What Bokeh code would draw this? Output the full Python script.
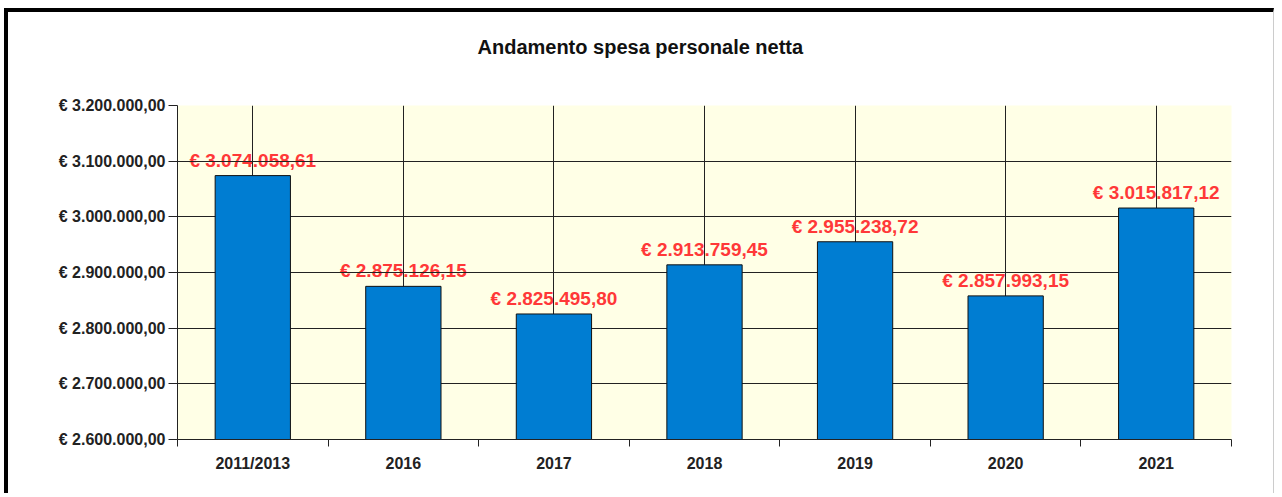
from bokeh.plotting import figure
from bokeh.models import ColumnDataSource, LabelSet, Title, FixedTicker, Range1d
from bokeh.core.properties import value
from bokeh.embed import file_html
from bokeh.resources import INLINE

categories = ["2011/2013", "2016", "2017", "2018", "2019", "2020", "2021"]
values = [3074058.61, 2875126.15, 2825495.80, 2913759.45, 2955238.72, 2857993.15, 3015817.12]
y_ticks = [2600000, 2700000, 2800000, 2900000, 3000000, 3100000, 3200000]
y_tick_labels = ["€ 2.600.000,00", "€ 2.700.000,00", "€ 2.800.000,00", "€ 2.900.000,00",
                 "€ 3.000.000,00", "€ 3.100.000,00", "€ 3.200.000,00"]
title_text = "Andamento spesa personale netta"


def it_fmt(v):
    s = f"{v:,.2f}"
    return "€ " + s.replace(",", "X").replace(".", ",").replace("X", ".")


xs = [i + 0.5 for i in range(len(categories))]
labels = [it_fmt(v) for v in values]
source = ColumnDataSource(dict(x=xs, top=values, label=labels))

FONT = "Liberation Sans"
DARK = "#222222"

p = figure(width=1270, height=485, output_backend="svg", toolbar_location=None, title=None,
           x_range=Range1d(0, len(categories)), y_range=Range1d(y_ticks[0], y_ticks[-1]),
           min_border_left=169, min_border_right=47, min_border_top=93, min_border_bottom=58)
p.styles = {"border-top": "4px solid black", "border-left": "4px solid black",
            "border-right": "1px solid #cccccc", "margin-left": "4px", "margin-top": "8px"}

# spacer (closest to the frame), then the visible title above it
p.add_layout(Title(text=" ", text_font_size="1px", standoff=45), "above")
p.add_layout(Title(text=title_text, align="left", offset=300, standoff=0,
                   text_font=FONT, text_font_size="20px", text_font_style="bold",
                   text_color="#111111"), "above")

p.background_fill_color = "#FFFFE6"
p.border_fill_color = "white"
p.outline_line_color = None

p.vbar(x="x", top="top", bottom=y_ticks[0], width=0.5, source=source,
       fill_color="#007DD2", line_color="#111111", line_width=1)

p.add_layout(LabelSet(x="x", y="top", text="label", source=source, y_offset=5,
                      text_align="center", text_baseline="bottom",
                      text_font=value(FONT), text_font_size=value("19px"),
                      text_font_style="bold",
                      text_color="#FF3838", level="image"))

# x axis
p.xaxis.ticker = FixedTicker(ticks=xs, minor_ticks=list(range(len(categories) + 1)))
p.xaxis.major_label_overrides = {x: c for x, c in zip(xs, categories)}
p.xaxis.major_tick_out = 0
p.xaxis.major_tick_in = 0
p.xaxis.minor_tick_out = 7
p.xaxis.minor_tick_in = 0
p.xaxis.minor_tick_line_color = DARK
p.xaxis.axis_line_color = DARK
p.xaxis.major_label_standoff = 8
p.xaxis.major_label_text_font = FONT
p.xaxis.major_label_text_font_size = "16px"
p.xaxis.major_label_text_font_style = "bold"
p.xaxis.major_label_text_color = "#222222"

# y axis
p.yaxis.ticker = FixedTicker(ticks=y_ticks, minor_ticks=[])
p.yaxis.major_label_overrides = {t: l for t, l in zip(y_ticks, y_tick_labels)}
p.yaxis.major_tick_out = 9
p.yaxis.major_tick_in = 0
p.yaxis.major_tick_line_color = DARK
p.yaxis.axis_line_color = DARK
p.yaxis.major_label_standoff = 3
p.yaxis.major_label_text_font = FONT
p.yaxis.major_label_text_font_size = "16px"
p.yaxis.major_label_text_font_style = "bold"
p.yaxis.major_label_text_color = "#222222"

p.xgrid.grid_line_color = DARK
p.ygrid.grid_line_color = DARK
p.xgrid.grid_line_alpha = 1
p.ygrid.grid_line_alpha = 1

open("out.html", "w").write(file_html(p, INLINE))
